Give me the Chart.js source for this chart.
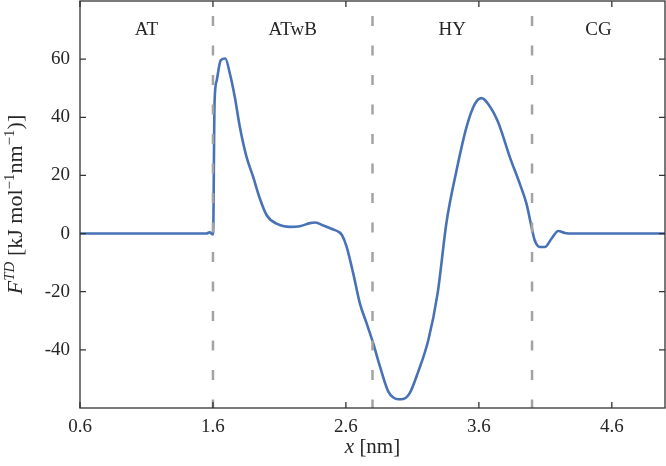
<!DOCTYPE html>
<html>
<head>
<meta charset="utf-8">
<script src="https://cdn.jsdelivr.net/npm/chart.js@4"></script>
<style>
  body { margin: 0; background: #fff; }
  #chart { display: block; }
</style>
</head>
<body>
<canvas id="chart" width="666" height="466" style="width:666px;height:466px"></canvas>
<script>
// Thermodynamic force profile along x
const xValues = [0.6, 1.0, 1.4, 1.55, 1.575, 1.601, 1.612, 1.628, 1.658, 1.693, 1.728, 1.765, 1.803,
  1.853, 1.903, 1.953, 2.004, 2.079, 2.18, 2.254, 2.33, 2.37, 2.43, 2.505, 2.545, 2.57, 2.605,
  2.655, 2.705, 2.756, 2.805, 2.856, 2.918, 2.96, 2.993, 3.03, 3.08, 3.14, 3.22, 3.29, 3.357,
  3.432, 3.507, 3.57, 3.62, 3.67, 3.745, 3.833, 3.908, 3.958, 3.996, 4.02, 4.058, 4.096, 4.147,
  4.197, 4.247, 4.3, 5.0];
const forceValues = [0, 0, 0, 0, 0.4, -0.3, 45, 52.6, 59.6, 60.2, 54.9, 46.8, 36.5,
  26.3, 19.4, 12.0, 6.3, 3.4, 2.3, 2.5, 3.6, 3.8, 2.8, 1.4, 0.6, -0.5, -4.5,
  -13.7, -24, -30.9, -37.7, -45.7, -54.3, -56.5, -57.0, -56.9, -54.9, -48, -36.6, -20.5, 4,
  21.7, 36.6, 44.6, 46.6, 44.6, 38.3, 26.3, 17.1, 10.3, 2.3, -2.3, -4.6, -4.6, -1.7,
  0.9, 0.2, 0, 0];

const xTicks = [0.6, 1.6, 2.6, 3.6, 4.6];
const yTicks = [-40, -20, 0, 20, 40, 60];
const regionNames = ['AT', 'ATwB', 'HY', 'CG'];
const regionEdges = [0.6, 1.6, 2.8, 4.0, 5.0];

const xMin = 0.6, xMax = 5.0, yMin = -60, yMax = 80;
const labelLevel = 70;

const serif = '"Liberation Serif", "DejaVu Serif", serif';
const textColor = '#262626';

// axis titles with sub/superscripts
const xTitle = [
  { t: 'x', style: 'italic', size: 21 },
  { t: ' [nm]', style: 'normal', size: 21 },
];
const yTitle = [
  { t: 'F', style: 'italic', size: 22 },
  { t: 'TD', style: 'italic', size: 15, dy: -8 },
  { t: ' [kJ mol', style: 'normal', size: 22 },
  { t: '\u22121', style: 'normal', size: 15, dy: -8 },
  { t: 'nm', style: 'normal', size: 22 },
  { t: '\u22121', style: 'normal', size: 15, dy: -8 },
  { t: ')]', style: 'normal', size: 22 },
];

function drawRich(ctx, parts, cx, cy, angle) {
  ctx.save();
  ctx.translate(cx, cy);
  ctx.rotate(angle);
  let total = 0;
  parts.forEach(p => {
    ctx.font = p.style + ' ' + p.size + 'px ' + serif;
    p.w = ctx.measureText(p.t).width;
    total += p.w;
  });
  let pos = -total / 2;
  ctx.textAlign = 'left';
  ctx.textBaseline = 'alphabetic';
  parts.forEach(p => {
    ctx.font = p.style + ' ' + p.size + 'px ' + serif;
    ctx.fillText(p.t, pos, 7 + (p.dy || 0));
    pos += p.w;
  });
  ctx.restore();
}

const frameAndText = {
  id: 'frameAndText',
  afterDatasetsDraw(chart) {
    const { ctx, chartArea: a, scales: { x, y } } = chart;
    ctx.save();
    ctx.strokeStyle = '#333';
    ctx.lineWidth = 1.3;
    ctx.strokeRect(a.left, a.top, a.right - a.left, a.bottom - a.top);

    // inward tick marks on all four sides
    ctx.beginPath();
    xTicks.forEach(v => {
      const px = x.getPixelForValue(v);
      ctx.moveTo(px, a.bottom); ctx.lineTo(px, a.bottom - 6);
      ctx.moveTo(px, a.top); ctx.lineTo(px, a.top + 6);
    });
    yTicks.forEach(v => {
      const py = y.getPixelForValue(v);
      ctx.moveTo(a.left, py); ctx.lineTo(a.left + 6, py);
      ctx.moveTo(a.right, py); ctx.lineTo(a.right - 6, py);
    });
    ctx.stroke();

    // region names
    ctx.fillStyle = textColor;
    ctx.font = '19px ' + serif;
    ctx.textAlign = 'center';
    ctx.textBaseline = 'middle';
    regionNames.forEach((name, i) => {
      const mid = (regionEdges[i] + regionEdges[i + 1]) / 2;
      ctx.fillText(name, x.getPixelForValue(mid), y.getPixelForValue(labelLevel));
    });

    drawRich(ctx, xTitle, (a.left + a.right) / 2, 446, 0);
    drawRich(ctx, yTitle, 15, (a.top + a.bottom) / 2, -Math.PI / 2);
    ctx.restore();
  }
};

const boundarySets = regionEdges.slice(1, -1).map(b => ({
  data: [{ x: b, y: yMax }, { x: b, y: yMin }],
  borderColor: '#a3a3a3',
  borderWidth: 2.5,
  borderDash: [10, 19.5],
  borderDashOffset: 14.5,
  pointRadius: 0,
  order: 0,
}));

new Chart(document.getElementById('chart'), {
  type: 'line',
  data: {
    datasets: [
      ...boundarySets,
      {
        data: xValues.map((v, i) => ({ x: v, y: forceValues[i] })),
        borderColor: '#4872b6',
        borderWidth: 2.6,
        pointRadius: 0,
        cubicInterpolationMode: 'monotone',
        order: 1,
      },
    ],
  },
  options: {
    responsive: false,
    animation: false,
    devicePixelRatio: 1,
    layout: { padding: { top: 1, right: 1, left: 0, bottom: 0 } },
    plugins: {
      legend: { display: false },
      tooltip: { enabled: false },
    },
    scales: {
      x: {
        type: 'linear',
        min: xMin,
        max: xMax,
        afterBuildTicks: s => { s.ticks = xTicks.map(v => ({ value: v })); },
        afterFit: s => { s.height = 58; s.paddingLeft = 0; s.paddingRight = 0; },
        grid: { display: false, drawTicks: false, tickLength: 0 },
        border: { display: false },
        ticks: {
          padding: 8,
          color: textColor,
          font: { family: serif, size: 19 },
          maxRotation: 0,
          callback: v => v.toFixed(1),
        },
      },
      y: {
        type: 'linear',
        min: yMin,
        max: yMax,
        afterBuildTicks: s => { s.ticks = yTicks.map(v => ({ value: v })); },
        afterFit: s => { s.width = 80; s.paddingTop = 0; s.paddingBottom = 0; },
        grid: { display: false, drawTicks: false, tickLength: 0 },
        border: { display: false },
        ticks: {
          padding: 10,
          color: textColor,
          font: { family: serif, size: 19 },
          callback: v => String(v),
        },
      },
    },
  },
  plugins: [frameAndText],
});
</script>
</body>
</html>
